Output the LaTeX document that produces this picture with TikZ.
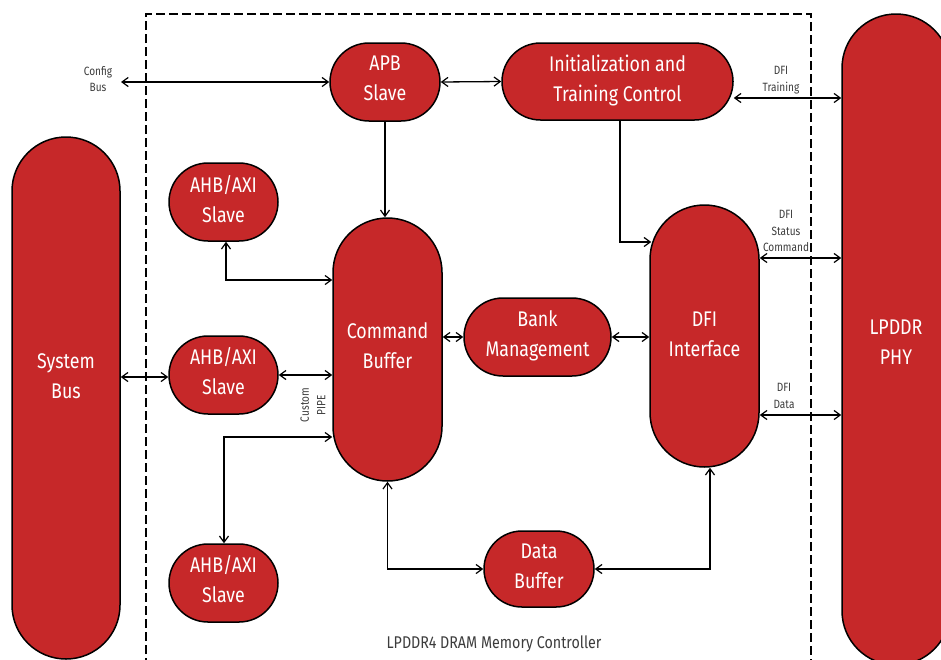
\documentclass[tikz,border=0pt]{standalone}
\usepackage{fontspec}
\setmainfont{Fira Sans}[FakeStretch=0.84]
\usetikzlibrary{arrows.meta,calc}
\definecolor{ddred}{RGB}{198,40,41}
\definecolor{lbl}{RGB}{60,60,60}
\newcommand\pilltxt[2][2pt]{\raisebox{#1}[\height][\depth]{\begin{tabular}{@{}c@{}}#2\end{tabular}}}
\tikzset{
  pill/.style={draw=black, line width=1.5pt, fill=ddred, text=white, inner sep=0pt,
    align=center, font=\fontsize{21.2}{30}\selectfont},
  conn/.style={line width=1.3pt, -{Straight Barb[length=2.2mm,width=3.2mm,line width=1.2pt]}},
  biconn/.style={line width=1.3pt, {Straight Barb[length=2.2mm,width=3.2mm,line width=1.2pt]}-{Straight Barb[length=2.2mm,width=3.2mm,line width=1.2pt]}},
  small/.style={text=lbl, align=center, font=\fontsize{12}{16.5}\selectfont, inner sep=0pt},
}
\begin{document}
\begin{tikzpicture}[x=1pt,y=-1pt]
\useasboundingbox (0,0) rectangle (941,659);
% dashed controller outline
\draw[line width=1.5pt, dash pattern=on 9pt off 4pt] (146,680) -- (146,14) -- (811,14) -- (811,680);
% big side blocks
\node[pill, minimum width=108pt, minimum height=522pt, rounded corners=54pt] (sysbus) at (66,398) {};
\node[text=white, align=center, inner sep=0pt, font=\fontsize{21.2}{30}\selectfont] (systxt) at (66,377.5) {\pilltxt[0pt]{System\\Bus}};
\node[pill, minimum width=108pt, minimum height=651pt, rounded corners=54pt] (phy) at (896,339.5) {\pilltxt[-4pt]{LPDDR\\PHY}};
% inner blocks
\node[pill, minimum width=110pt, minimum height=78pt, rounded corners=39pt] (apb) at (385,82) {\pilltxt[2.5pt]{APB\\Slave}};
\node[pill, minimum width=231pt, minimum height=77pt, rounded corners=38.5pt] (init) at (617.5,81.5) {\pilltxt[1.5pt]{Initialization and\\Training Control}};
\node[pill, minimum width=109pt, minimum height=78pt, rounded corners=39pt] (ahba) at (223.5,202) {\pilltxt[0.5pt]{AHB/AXI\\Slave}};
\node[pill, minimum width=109pt, minimum height=78pt, rounded corners=39pt] (ahbb) at (223.5,375) {\pilltxt{AHB/AXI\\Slave}};
\node[pill, minimum width=109pt, minimum height=78pt, rounded corners=39pt] (ahbc) at (223.5,583) {\pilltxt{AHB/AXI\\Slave}};
\node[pill, minimum width=109pt, minimum height=263pt, rounded corners=54.5pt] (cmd) at (387.5,349.5) {\pilltxt[2.5pt]{Command\\Buffer}};
\node[pill, minimum width=147pt, minimum height=78pt, rounded corners=39pt] (bank) at (537.5,337) {\pilltxt{Bank\\Management}};
\node[pill, minimum width=109pt, minimum height=262pt, rounded corners=54.5pt] (dfi) at (704.5,336) {\pilltxt[1pt]{DFI\\Interface}};
\node[pill, minimum width=110pt, minimum height=76pt, rounded corners=38pt] (data) at (539,569) {\pilltxt{Data\\Buffer}};
% labels
\node[small] (cfgl) at (98,79) {Config\\Bus};
\coordinate (cfgend) at (121,82);
\node[small] (trl) at (781,80) {DFI\\Training};
\node[small] (stl) at (786,231) {DFI\\Status\\Command};
\node[small] (dal) at (784,396) {DFI\\Data};
\node[small, rotate=90] (pipel) at (313,405) {Custom\\PIPE};
\node[text=lbl, font=\fontsize{17}{20}\selectfont] (title) at (494,644) {LPDDR4 DRAM Memory Controller};
% connectors
\draw[biconn] (cfgend) -- (apb.west);
\draw[biconn] (apb.east) -- (init.west);
\draw[biconn] ([yshift=-16.5pt]init.east) -- ([yshift=-16.5pt]init.east -| phy.west);
\draw[conn] (apb.south) -- (apb.south |- cmd.north);
\draw[conn] ([xshift=2.5pt]init.south) |- ([xshift=2pt,yshift=94pt]dfi.west);
\draw[biconn] ([xshift=2.5pt]ahba.south) |- ([yshift=69.5pt]cmd.west);
\draw[biconn] ([yshift=-2pt]ahbb.west) -- ([yshift=-2pt]ahbb.west -| sysbus.east);
\draw[biconn] (ahbb.east) -- (ahbb.east -| cmd.west);
\draw[biconn] ([yshift=-87.5pt]cmd.west) -| ([xshift=0.5pt]ahbc.north);
\draw[biconn] (cmd.east |- bank.west) -- (bank.west);
\draw[biconn] (bank.east) -- (bank.east -| dfi.west);
\draw[biconn] ([yshift=78pt]dfi.east) -- ([yshift=78pt]dfi.east -| phy.west);
\draw[biconn] ([yshift=-79pt]dfi.east) -- ([yshift=-79pt]dfi.east -| phy.west);
\draw[biconn] (cmd.south) |- (data.west);
\draw[biconn] ([xshift=5.5pt]dfi.south) |- (data.east);
\end{tikzpicture}
\end{document}
